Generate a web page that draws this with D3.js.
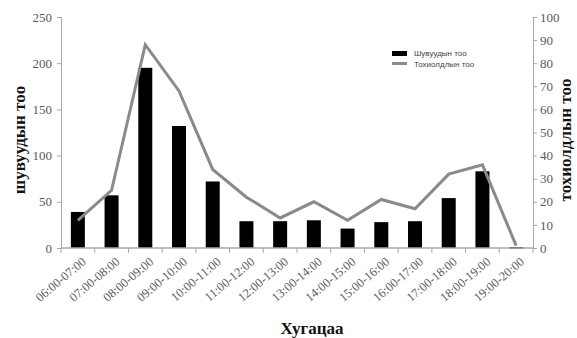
<!DOCTYPE html>
<html><head><meta charset="utf-8">
<script src="https://cdn.jsdelivr.net/npm/d3@7"></script>
<style>body{margin:0;background:#fff}</style>
</head><body>
<svg id="c" width="577" height="338"></svg>
<script>
const categories = ["06:00-07:00","07:00-08:00","08:00-09:00","09:00-10:00","10:00-11:00","11:00-12:00","12:00-13:00","13:00-14:00","14:00-15:00","15:00-16:00","16:00-17:00","17:00-18:00","18:00-19:00","19:00-20:00"];
const birds = [39,57,195,132,72,29,29,30,21,28,29,54,83,1];
const cases = [12,25,88,68,34,22,13,20,12,21,17,32,36,1];
const leftTicks = [0,50,100,150,200,250];
const rightTicks = [0,10,20,30,40,50,60,70,80,90,100];

const svg = d3.select("#c");
const m = {l:61, r:533, t:17, b:248};
const xb = d3.scaleBand().domain(categories).range([m.l, m.r]);
const yL = d3.scaleLinear().domain([0,250]).range([m.b, m.t]);
const yR = d3.scaleLinear().domain([0,100]).range([m.b, m.t]);
const axisCol = "#a8a8a8", textCol = "#5a5a5a";

// bars
svg.append("g").selectAll("rect").data(birds).join("rect")
  .attr("x",(d,i)=>xb(categories[i]) + xb.bandwidth()/2 - 7)
  .attr("width",14)
  .attr("y",d=>yL(d)).attr("height",d=>Math.max(1.5,yL(0)-yL(d))).attr("fill","#000");

// line
const line = d3.line().x((d,i)=>xb(categories[i])+xb.bandwidth()/2).y(d=>yR(d));
svg.append("path").datum(cases).attr("d",line).attr("fill","none")
  .attr("stroke","#8a8a8a").attr("stroke-width",3).attr("stroke-linejoin","miter");

// left axis
const gl = svg.append("g").attr("transform",`translate(${m.l},0)`)
  .call(d3.axisLeft(yL).tickValues(leftTicks).tickSize(4).tickPadding(5));
gl.selectAll("path,line").attr("stroke",axisCol);
gl.selectAll("text").attr("font-family","'Liberation Serif',serif").attr("font-size",13).attr("fill",textCol);

// right axis
const gr = svg.append("g").attr("transform",`translate(${m.r},0)`)
  .call(d3.axisRight(yR).tickValues(rightTicks).tickSize(4).tickPadding(3));
gr.selectAll("path,line").attr("stroke",axisCol);
gr.selectAll("text").attr("font-family","'Liberation Serif',serif").attr("font-size",13).attr("fill",textCol);

// x axis
const gx = svg.append("g").attr("transform",`translate(0,${m.b})`);
gx.append("line").attr("x1",m.l).attr("x2",m.r).attr("stroke",axisCol).attr("stroke-width",1.5);
gx.selectAll("line.t").data(d3.range(categories.length+1)).join("line").attr("class","t")
  .attr("x1",i=>m.l+i*xb.step()).attr("x2",i=>m.l+i*xb.step()).attr("y1",0).attr("y2",5).attr("stroke",axisCol);
gx.selectAll("text").data(categories).join("text")
  .attr("transform",d=>`translate(${xb(d)+xb.bandwidth()/2+9},${15}) rotate(-40)`)
  .attr("text-anchor","end").attr("font-family","'Liberation Serif',serif").attr("font-size",12.5)
  .attr("fill",textCol).text(d=>d);

// titles
svg.append("text").attr("transform","translate(25,140) rotate(-90)").attr("text-anchor","middle")
  .attr("font-family","'Liberation Serif',serif").attr("font-weight","bold").attr("font-size",17).attr("fill","#111")
  .text("шувуудын тоо");
svg.append("text").attr("transform","translate(571,140) rotate(-90)").attr("text-anchor","middle")
  .attr("font-family","'Liberation Serif',serif").attr("font-weight","bold").attr("font-size",17).attr("fill","#111")
  .text("тохиолдлын тоо");
svg.append("text").attr("x",312).attr("y",334).attr("text-anchor","middle")
  .attr("font-family","'Liberation Serif',serif").attr("font-weight","bold").attr("font-size",17).attr("fill","#111")
  .text("Хугацаа");

// legend
const lg = svg.append("g").attr("transform","translate(392,0)");
lg.append("rect").attr("x",0).attr("y",51).attr("width",15).attr("height",5).attr("fill","#000");
lg.append("rect").attr("x",0).attr("y",62).attr("width",15).attr("height",3).attr("fill","#8a8a8a");
lg.append("text").attr("x",22).attr("y",56).attr("font-family","'Liberation Sans',sans-serif").attr("font-size",8).attr("fill","#444").text("Шувуудын тоо");
lg.append("text").attr("x",22).attr("y",67).attr("font-family","'Liberation Sans',sans-serif").attr("font-size",8).attr("fill","#444").text("Тохиолдлын тоо");
</script>
</body></html>
